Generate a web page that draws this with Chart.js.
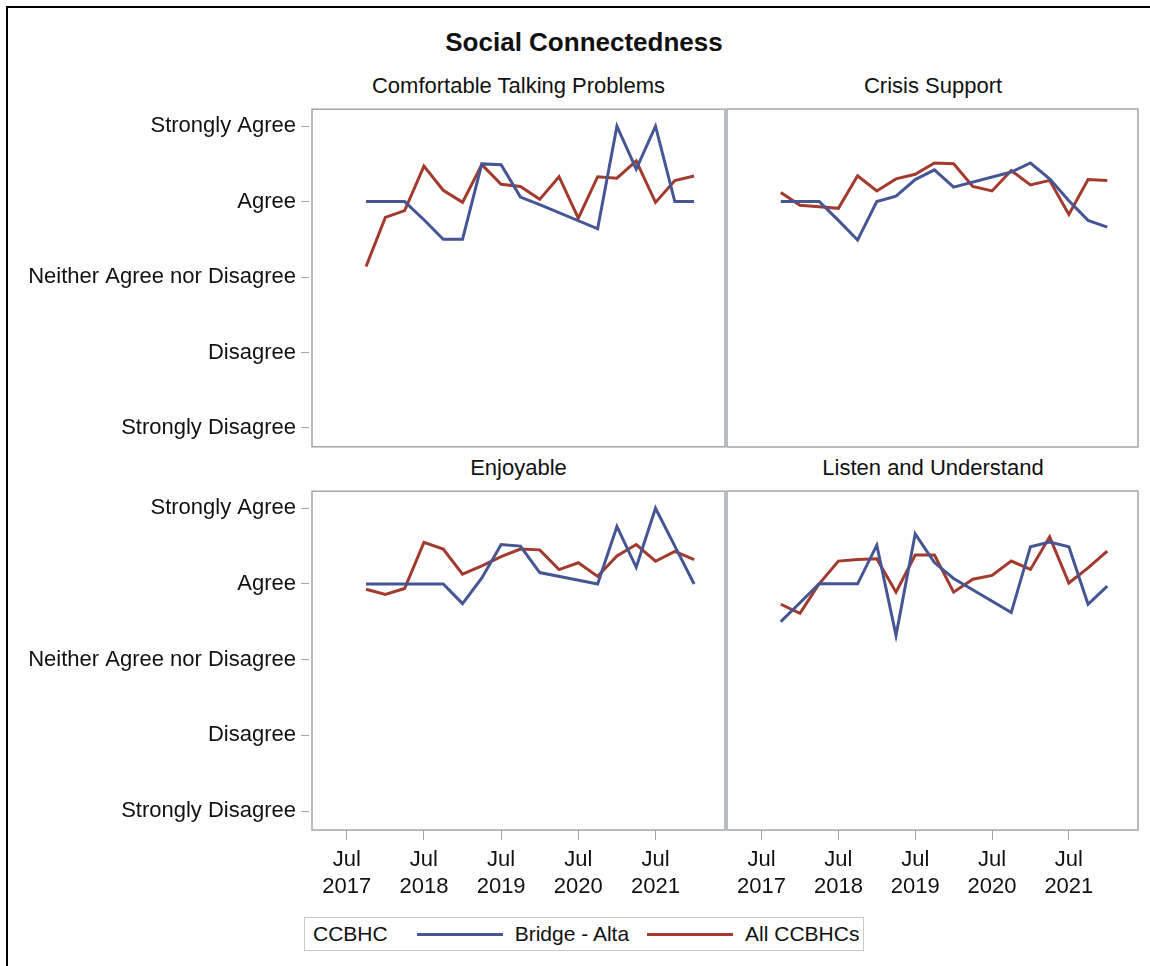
<!DOCTYPE html>
<html>
<head>
<meta charset="utf-8">
<script src="https://cdn.jsdelivr.net/npm/chart.js@4"></script>
<style>
  body { margin: 0; background: #fff; width: 1150px; height: 966px; overflow: hidden; position: relative;
         font-family: "Liberation Sans", Arial, sans-serif; color: #111; }
  .frame { position: absolute; left: 6px; top: 6px; width: 1200px; height: 1000px;
           border-left: 2px solid #000; border-top: 2px solid #000; }
  canvas { position: absolute; }
  .title { position: absolute; left: 0; width: 1168px; top: 27px; line-height: 30px; text-align: center;
           font-size: 26px; font-weight: bold; }
  .ptitle { position: absolute; line-height: 24px; text-align: center; font-size: 22px; }
  #legend { position: absolute; left: 304px; top: 917px; height: 32px; border: 1px solid #c9c9c9;
            display: flex; align-items: center; font-size: 21px; padding: 0 4px 0 8px; }
  #legend .sw { width: 86px; height: 0; border-top: 3px solid; margin: 0 12px 0 0; }
  #legend span { margin-right: 18px; }
  #legend span:last-child { margin-right: 0; }
</style>
</head>
<body>
<div class="frame"></div>
<div class="title">Social Connectedness</div>
<div class="ptitle" style="left:312px;width:413px;top:74px">Comfortable Talking Problems</div>
<div class="ptitle" style="left:727px;width:412px;top:74px">Crisis Support</div>
<div class="ptitle" style="left:312px;width:413px;top:456px">Enjoyable</div>
<div class="ptitle" style="left:727px;width:412px;top:456px">Listen and Understand</div>

<canvas id="c1" width="735" height="374" style="left:0;top:91px"></canvas>
<canvas id="c2" width="432" height="357" style="left:717px;top:100px"></canvas>
<canvas id="c3" width="735" height="429" style="left:0;top:473px"></canvas>
<canvas id="c4" width="432" height="420" style="left:717px;top:482px"></canvas>

<div id="legend"></div>

<script>
// quarterly survey periods
var quarters = ["2017-10", "2018-01", "2018-04", "2018-07", "2018-10", "2019-01", "2019-04", "2019-07", "2019-10",
  "2020-01", "2020-04", "2020-07", "2020-10", "2021-01", "2021-04", "2021-07", "2021-10", "2022-01"];

var yLabels = ["Strongly Disagree", "Disagree", "Neither Agree nor Disagree", "Agree", "Strongly Agree"];
var xTickLabels = ["Jul 2017", "Jul 2018", "Jul 2019", "Jul 2020", "Jul 2021"];

var seriesNames = ["Bridge - Alta", "All CCBHCs"];
var seriesColors = ["#445694", "#A23A2E"];

// Comfortable Talking Problems
var comfortBridge = [4.0, 4.0, 4.0, 3.76, 3.5, 3.5, 4.5, 4.49, 4.06, 3.96, null, null, 3.64, 5.0, 4.43, 5.0, 4.0, 4.0];
var comfortAll = [3.14, 3.79, 3.88, 4.47, 4.15, 3.99, 4.49, 4.23, 4.2, 4.03, 4.33, 3.78, 4.33, 4.31, 4.54, 3.99, 4.28, 4.34];

// Crisis Support
var crisisBridge = [4.0, 4.0, 4.0, 3.75, 3.49, 4.0, 4.07, 4.29, 4.42, 4.19, null, null, 4.39, 4.51, 4.3, 4.01, 3.75, 3.66];
var crisisAll = [4.12, 3.95, 3.93, 3.91, 4.34, 4.14, 4.3, 4.36, 4.51, 4.5, 4.2, 4.14, 4.41, 4.22, 4.28, 3.83, 4.29, 4.28];

// Enjoyable
var enjoyBridge = [4.0, 4.0, 4.0, 4.0, 4.0, 3.74, 4.08, 4.52, 4.5, 4.15, null, null, 4.0, 4.76, 4.22, 5.0, 4.5, 4.0];
var enjoyAll = [3.93, 3.86, 3.94, 4.55, 4.46, 4.13, 4.24, 4.36, 4.46, 4.45, 4.19, 4.28, 4.1, 4.37, 4.52, 4.3, 4.43, 4.32];

// Listen and Understand
var listenBridge = [3.5, 3.75, 4.0, 4.0, 4.0, 4.51, 3.32, 4.66, 4.28, 4.07, null, null, 3.62, 4.49, 4.55, 4.49, 3.73, 3.97];
var listenAll = [3.73, 3.61, 4.0, 4.3, 4.32, 4.33, 3.89, 4.38, 4.38, 3.89, 4.06, 4.11, 4.3, 4.19, 4.62, 4.01, 4.21, 4.43];

var FRAME = "#a3a7ab";
var TICK = "#a3a7ab";

Chart.defaults.font.family = '"Liberation Sans", Arial, sans-serif';
Chart.defaults.color = "#111";

function toYear(s) {
  var p = s.split("-");
  return +p[0] + (+p[1] - 1) / 12;
}
var monthIdx = { Jan: 0, Apr: 3, Jul: 6, Oct: 9 };
function tickYear(lbl) {
  var p = lbl.split(" ");
  return +p[1] + monthIdx[p[0]] / 12;
}

function points(vals) {
  return quarters.map(function (q, i) { return { x: toYear(q), y: vals[i] }; });
}

// box around each panel
var panelFrame = {
  id: "panelFrame",
  afterDraw: function (chart) {
    var a = chart.chartArea, c = chart.ctx;
    c.save();
    c.strokeStyle = FRAME;
    c.lineWidth = 1.5;
    c.strokeRect(a.left, a.top, a.right - a.left, a.bottom - a.top);
    c.restore();
  }
};

function makePanel(id, bridge, all, showY, showX, pad) {
  var ctx = document.getElementById(id).getContext("2d");
  return new Chart(ctx, {
    type: "line",
    data: {
      datasets: [
        { label: seriesNames[0], data: points(bridge), borderColor: seriesColors[0], borderWidth: 3,
          pointRadius: 0, spanGaps: true, tension: 0 },
        { label: seriesNames[1], data: points(all), borderColor: seriesColors[1], borderWidth: 3,
          pointRadius: 0, spanGaps: true, tension: 0 }
      ]
    },
    options: {
      responsive: false,
      animation: false,
      layout: { padding: pad },
      plugins: { legend: { display: false }, tooltip: { enabled: false } },
      scales: {
        x: {
          type: "linear",
          min: 2017.05,
          max: 2022.4,
          display: showX,
          afterBuildTicks: function (s) {
            s.ticks = xTickLabels.map(function (l) { return { value: tickYear(l) }; });
          },
          ticks: {
            autoSkip: false,
            maxRotation: 0,
            padding: 7,
            font: { size: 22 },
            callback: function (v, i) { return xTickLabels[i].split(" "); }
          },
          grid: { drawOnChartArea: false, tickLength: 10, color: TICK },
          border: { display: false },
          afterFit: function (s) { s.height = showX ? 72 : 0; }
        },
        y: {
          min: 0.75,
          max: 5.225,
          display: showY,
          afterBuildTicks: function (s) {
            s.ticks = yLabels.map(function (l, i) { return { value: i + 1 }; });
          },
          ticks: {
            autoSkip: false,
            padding: 5,
            font: { size: 22 },
            callback: function (v) { return yLabels[Math.round(v) - 1]; }
          },
          grid: { drawOnChartArea: false, tickLength: 11, tickBorderDash: [8, 3], color: TICK },
          border: { display: false },
          afterFit: function (s) { s.width = showY ? 312 : 0; }
        }
      }
    },
    plugins: [panelFrame]
  });
}

makePanel("c1", comfortBridge, comfortAll, true, false, { top: 9, right: 10, bottom: 10, left: 0 });
makePanel("c2", crisisBridge, crisisAll, false, false, { top: 9, right: 11, bottom: 10, left: 10 });
makePanel("c3", enjoyBridge, enjoyAll, true, true, { top: 9, right: 10, bottom: 0, left: 0 });
makePanel("c4", listenBridge, listenAll, false, true, { top: 9, right: 11, bottom: 0, left: 10 });

// legend
var legend = document.getElementById("legend");
var head = document.createElement("span");
head.textContent = "CCBHC";
head.style.marginRight = "29px";
legend.appendChild(head);
seriesNames.forEach(function (n, i) {
  var sw = document.createElement("div");
  sw.className = "sw";
  sw.style.borderTopColor = seriesColors[i];
  legend.appendChild(sw);
  var t = document.createElement("span");
  t.textContent = n;
  legend.appendChild(t);
});
</script>
</body>
</html>
